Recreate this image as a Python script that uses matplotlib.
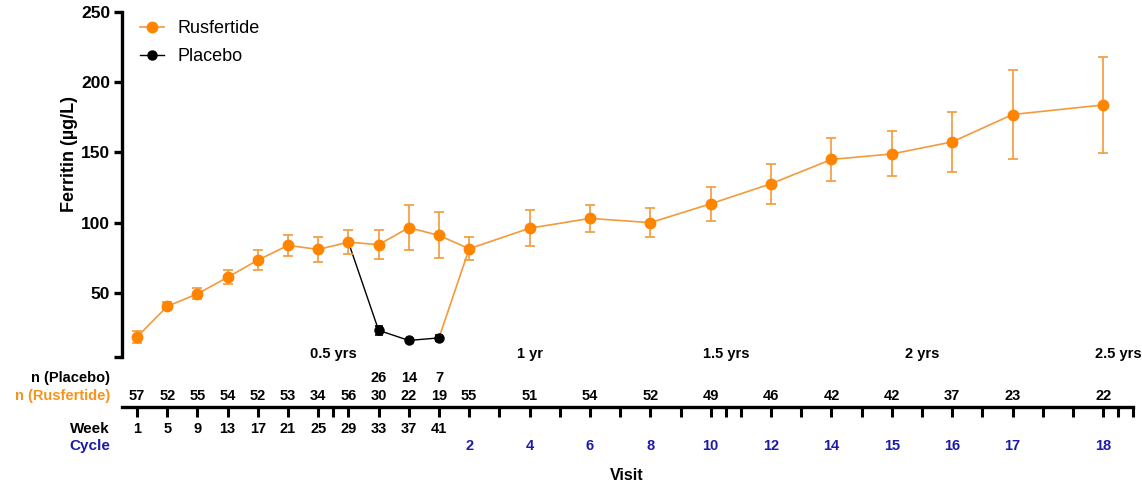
import numpy as np
import matplotlib.pyplot as plt
from matplotlib.lines import Line2D
from matplotlib.transforms import blended_transform_factory

plt.rcParams['font.family'] = ['Liberation Sans', 'DejaVu Sans']

# ---- data ----
rus_pos = [0, 1, 2, 3, 4, 5, 6, 7, 8, 9, 10, 11, 13, 15, 17, 19, 21, 23, 25, 27, 29, 32]
rus_mean = [18.6, 40.4, 49.3, 61.1, 73.3, 83.8, 80.9, 86.1, 84.3, 96.4, 90.9, 81.4,
            96.0, 103.0, 100.0, 113.4, 127.7, 145.0, 148.9, 157.5, 177.0, 183.8]
rus_err = [4.3, 2.9, 4.0, 5.1, 7.3, 7.6, 9.1, 8.6, 10.3, 15.8, 16.4, 8.1,
           13.0, 9.8, 10.3, 11.9, 14.1, 15.3, 16.0, 21.4, 31.9, 33.9]
rus_n = [57, 52, 55, 54, 52, 53, 34, 56, 30, 22, 19, 55, 51, 54, 52, 49, 46, 42, 42, 37, 23, 22]

pla_pos = [8, 9, 10]
pla_mean = [23.3, 16.1, 17.9]
pla_err = [3.0, 1.0, 2.4]
pla_n = [26, 14, 7]

week_pos = list(range(11))
week_labels = [1, 5, 9, 13, 17, 21, 25, 29, 33, 37, 41]
cycle_pos = [11, 13, 15, 17, 19, 21, 23, 25, 27, 29, 32]
cycle_labels = [2, 4, 6, 8, 10, 12, 14, 15, 16, 17, 18]
year_pos = [6.5, 13, 19.5, 26, 32.5]
year_labels = ["0.5 yrs", "1 yr", "1.5 yrs", "2 yrs", "2.5 yrs"]

ORANGE = "#FF8400"
ORANGE_LINE = "#F39A3B"
BLUE = "#1B1BA8"

W, H = 1142, 486
fig = plt.figure(figsize=(W / 100, H / 100), dpi=100)

XMIN, XMAX = -0.5, 33.0
YMIN, YMAX = 4.3, 250
left = 122 / W
width = (33.5 * 30.19) / W
ax = fig.add_axes([left, 1 - 357 / H, width, 345 / H])
ax.set_xlim(XMIN, XMAX)
ax.set_ylim(YMIN, YMAX)

# placebo branch starts from the last shared visit
ax.plot([7] + pla_pos, [rus_mean[7]] + pla_mean, color="black", lw=1.0, zorder=2)
ax.errorbar(pla_pos, pla_mean, yerr=pla_err, fmt="o", color="black", ms=6.5,
            capsize=3.2, elinewidth=1.2, capthick=1.2, zorder=3)
# switch from placebo back to rusfertide
ax.plot([pla_pos[-1], rus_pos[11]], [pla_mean[-1], rus_mean[11]], color=ORANGE_LINE,
        lw=1.2, zorder=2)
ax.errorbar(rus_pos, rus_mean, yerr=rus_err, fmt="-", color=ORANGE_LINE, lw=1.2,
            capsize=3.6, elinewidth=1.2, capthick=1.2, zorder=4)
ax.plot(rus_pos, rus_mean, "o", color=ORANGE, ms=7.5, zorder=5)

for s in ["top", "right", "bottom"]:
    ax.spines[s].set_visible(False)
ax.spines["left"].set_linewidth(2.4)
ax.set_xticks([])
ax.set_yticks([YMIN, 50, 100, 150, 200, 250])
ax.set_yticklabels(["", "50", "100", "150", "200", "250"])
ax.tick_params(axis="y", length=5.5, width=2.4, pad=3, labelsize=12.5)
for t in ax.get_yticklabels():
    t.set_fontweight("bold")

fig.text(69 / W, 1 - 154 / H, "Ferritin (µg/L)", rotation=90, ha="center", va="center",
         fontsize=13, fontweight="bold")

# legend
handles = [Line2D([], [], color=ORANGE_LINE, lw=1.2, marker="o", ms=7.5,
                  markerfacecolor=ORANGE, markeredgecolor=ORANGE),
           Line2D([], [], color="black", lw=1.0, marker="o", ms=6.5)]
ax.legend(handles, ["Rusfertide", "Placebo"], loc="upper left",
          bbox_to_anchor=(124 / W, 1 - 4 / H), bbox_transform=fig.transFigure,
          frameon=False, fontsize=13, handlelength=1.3, handletextpad=0.75,
          labelspacing=0.6)

# year markers inside the plot
tr = blended_transform_factory(ax.transData, fig.transFigure)
for p, lab in zip(year_pos, year_labels):
    ax.text(p, 1 - 354 / H, lab, transform=tr, ha="center", va="center",
            fontsize=10.5, fontweight="bold")

# visit axis below the plot
ax2 = fig.add_axes([left, 1 - 407 / H, width, 0.0001])
ax2.set_xlim(XMIN, XMAX)
ax2.set_yticks([])
for s in ["top", "right", "left"]:
    ax2.spines[s].set_visible(False)
ax2.spines["bottom"].set_linewidth(2.4)
ax2.set_xticks(list(range(33)) + [6.5, 19.5, 32.5, 33])
ax2.set_xticklabels([])
ax2.tick_params(axis="x", length=7.5, width=2.2, direction="out")
ax2.patch.set_visible(False)

fs = 10.5
for p, n in zip(pla_pos, pla_n):
    ax.text(p, 1 - 378 / H, str(n), transform=tr, ha="center", va="center",
            fontsize=fs, fontweight="bold")
for p, n in zip(rus_pos, rus_n):
    ax.text(p, 1 - 396 / H, str(n), transform=tr, ha="center", va="center",
            fontsize=fs, fontweight="bold")
for p, w in zip(week_pos, week_labels):
    ax.text(p, 1 - 429 / H, str(w), transform=tr, ha="center", va="center",
            fontsize=fs, fontweight="bold")
for p, c in zip(cycle_pos, cycle_labels):
    ax.text(p, 1 - 446 / H, str(c), transform=tr, ha="center", va="center",
            fontsize=fs, fontweight="bold", color=BLUE)

rx = 110 / W
fig.text(rx, 1 - 378 / H, "n (Placebo)", ha="right", va="center", fontsize=fs,
         fontweight="bold")
fig.text(rx, 1 - 396 / H, "n (Rusfertide)", ha="right", va="center", fontsize=fs,
         fontweight="bold", color="#F7941D")
fig.text(rx, 1 - 429 / H, "Week", ha="right", va="center", fontsize=11,
         fontweight="bold")
fig.text(rx, 1 - 446 / H, "Cycle", ha="right", va="center", fontsize=11,
         fontweight="bold", color=BLUE)
fig.text(627 / W, 1 - 475 / H, "Visit", ha="center", va="center", fontsize=11.5,
         fontweight="bold")

fig.savefig("out.png", dpi=100)
